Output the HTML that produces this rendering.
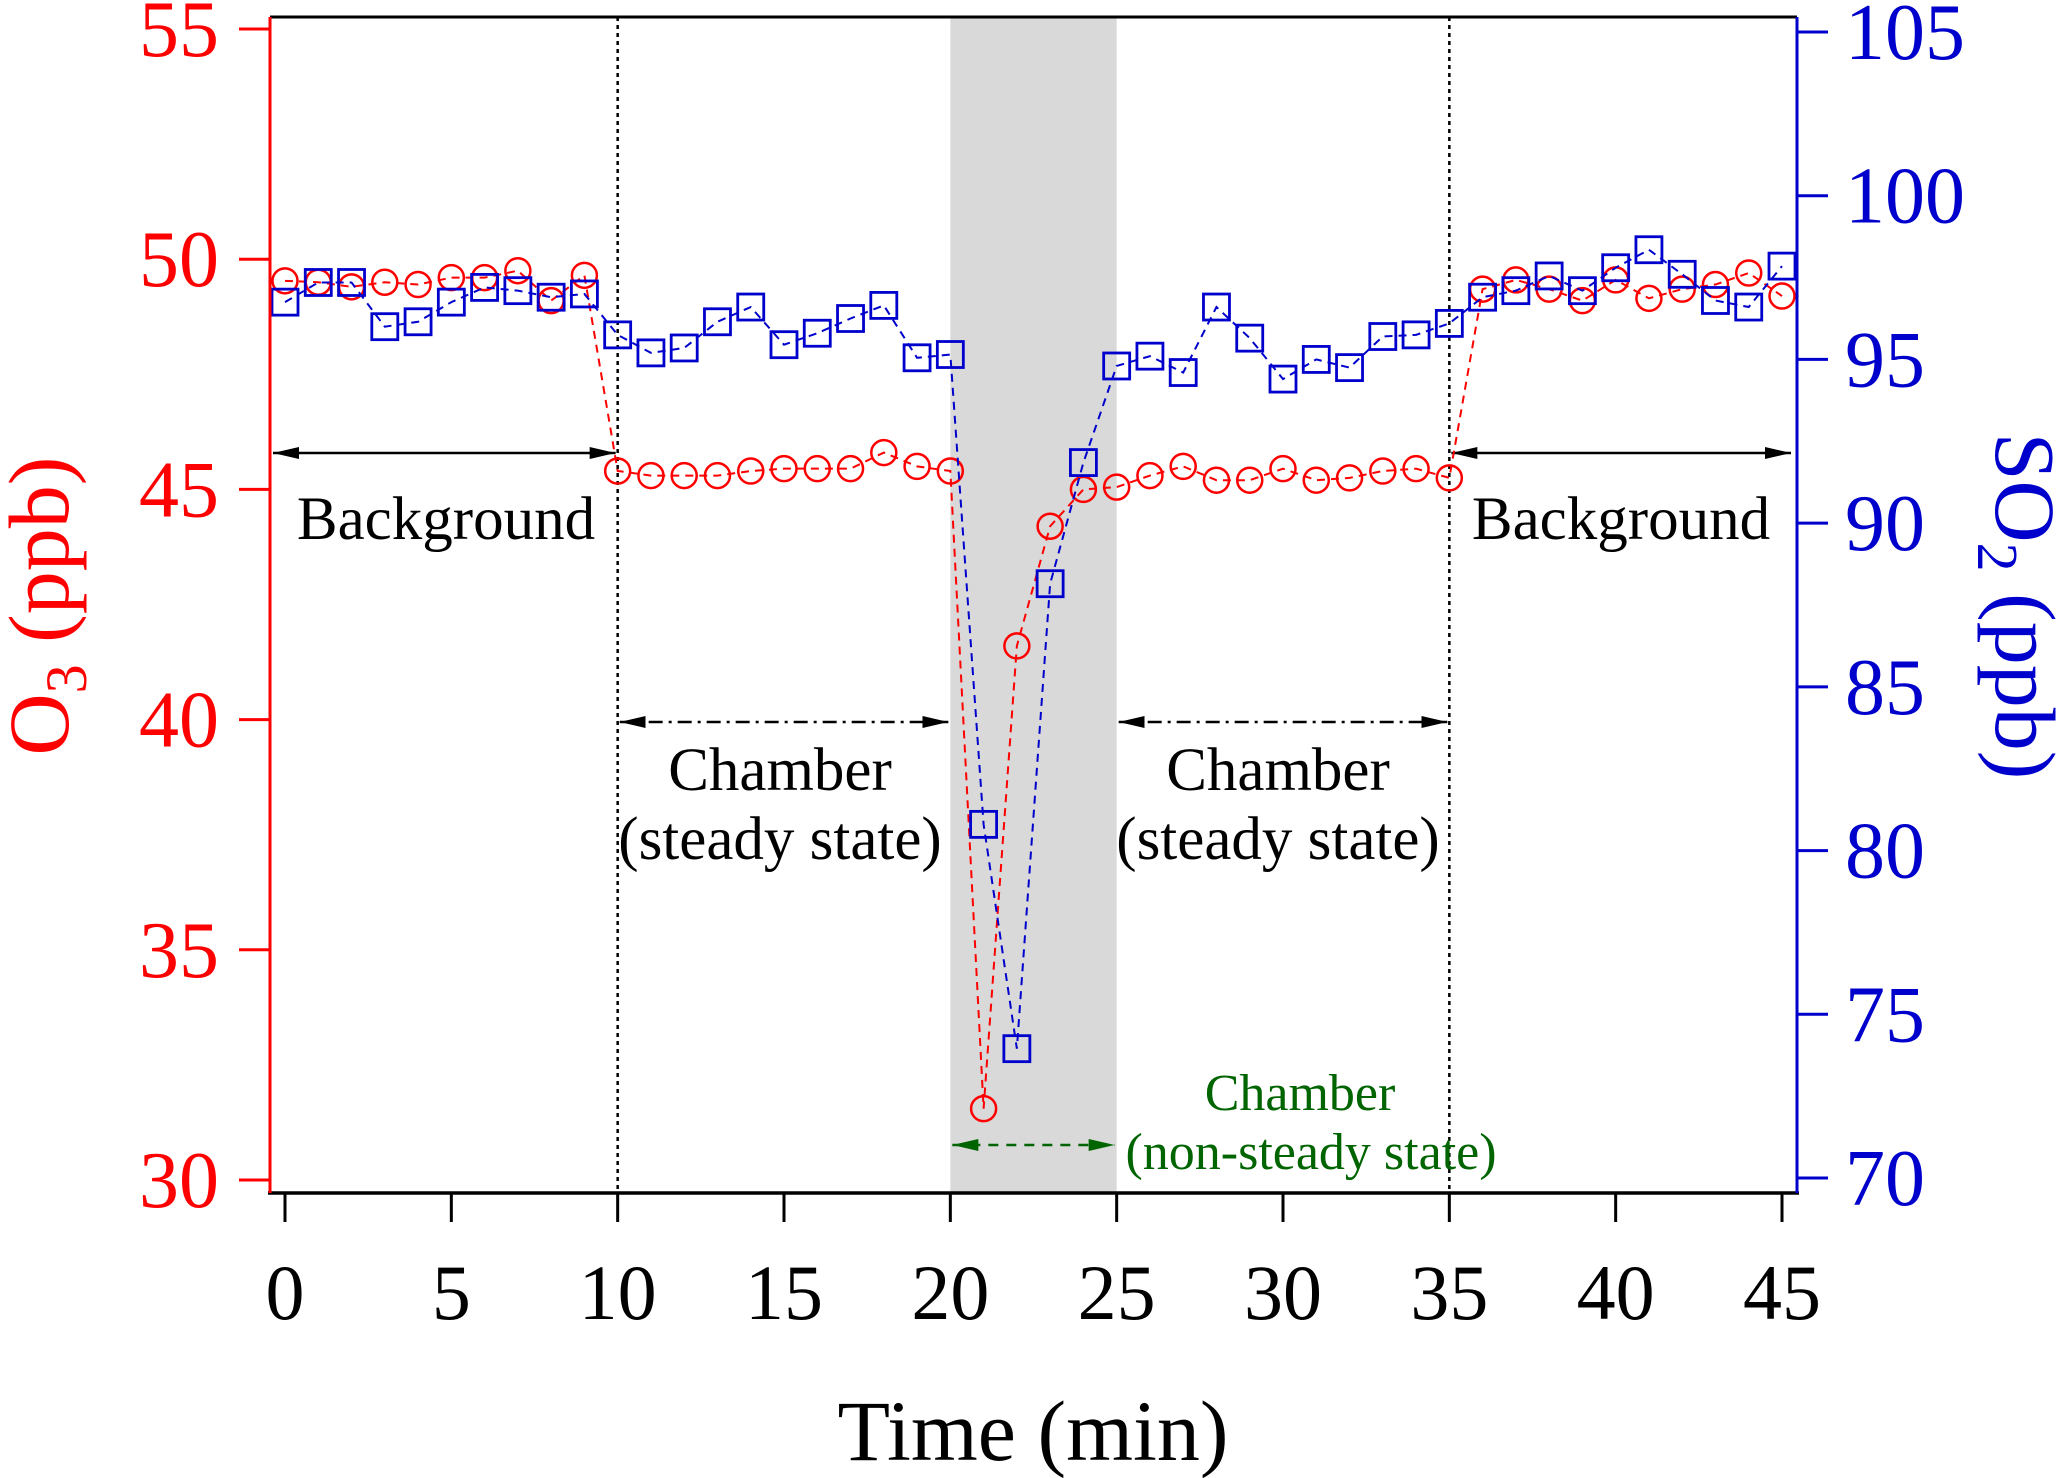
<!DOCTYPE html>
<html><head><meta charset="utf-8"><style>
body{margin:0;background:#fff}
svg{display:block;font-family:"Liberation Serif",serif}
</style></head><body>
<svg id="chart" width="2067" height="1478" viewBox="0 0 2067 1478" xmlns="http://www.w3.org/2000/svg">
<g id="bg"></g>
<g id="marks"></g>
<g id="axes"></g>
</svg>
<script>
const times=[0,1,2,3,4,5,6,7,8,9,10,11,12,13,14,15,16,17,18,19,20,21,22,23,24,25,26,27,28,29,30,31,32,33,34,35,36,37,38,39,40,41,42,43,44,45];
const o3Values=[49.53,49.5,49.4,49.5,49.45,49.6,49.6,49.75,49.1,49.65,45.4,45.3,45.3,45.3,45.4,45.45,45.45,45.45,45.8,45.5,45.4,31.55,41.6,44.2,45.0,45.05,45.3,45.5,45.2,45.2,45.45,45.2,45.25,45.4,45.45,45.25,49.35,49.55,49.35,49.1,49.55,49.15,49.35,49.45,49.7,49.2];
const so2Values=[96.75,97.35,97.35,96.0,96.15,96.75,97.2,97.1,96.9,97.0,95.75,95.2,95.35,96.15,96.6,95.45,95.8,96.25,96.65,95.05,95.15,80.8,73.95,88.15,91.85,94.8,95.1,94.6,96.6,95.65,94.4,95.0,94.75,95.7,95.75,96.1,96.9,97.1,97.55,97.1,97.8,98.35,97.6,96.8,96.6,97.85];
const xTicks=[0,5,10,15,20,25,30,35,40,45];
const o3Ticks=[30,35,40,45,50,55];
const so2Ticks=[70,75,80,85,90,95,100,105];

const NS="http://www.w3.org/2000/svg";
const L=270,R=1797,T=17,B=1193;
const xs=t=>285+(t-0)*(1782-285)/45;
const yO=v=>29+(55-v)*(1180-29)/25;
const yS=v=>32+(105-v)*(1178-32)/35;
function mk(tag,attrs,parent,text){const e=document.createElementNS(NS,tag);for(const k in attrs)e.setAttribute(k,attrs[k]);if(text!==undefined)e.textContent=text;parent.appendChild(e);return e;}
const bg=document.getElementById('bg'),marks=document.getElementById('marks'),axes=document.getElementById('axes');

let band=mk('rect',{x:xs(20),y:T,width:xs(25)-xs(20),height:B-T,fill:'#d9d9d9'},bg);


[10,35].forEach(t=>{let l=mk('line',{x1:xs(t),x2:xs(t),y1:T,y2:B,stroke:'#000','stroke-width':2.5,'stroke-dasharray':'4 4'},bg);

});

const defs=mk('defs',{},document.getElementById('chart'));
function arrowDef(id,col){const m=mk('marker',{id:id,viewBox:'0 0 10 10',refX:10,refY:5,markerWidth:26,markerHeight:12,markerUnits:'userSpaceOnUse',orient:'auto-start-reverse',preserveAspectRatio:'none'},defs);mk('path',{d:'M0,0 L10,5 L0,10 z',fill:col},m);}
arrowDef('ak','#000');arrowDef('ag','#006400');
function arrow(x1,x2,y,col,dash,id,name){let l=mk('line',{x1:x1,x2:x2,y1:y,y2:y,stroke:col,'stroke-width':2.5,'stroke-dasharray':dash,'marker-start':'url(#'+id+')','marker-end':'url(#'+id+')'},bg);

}
arrow(L+3,xs(10)-2,453,'#000','none','ak','background-arrow-left');
arrow(xs(35)+2,R-6,453,'#000','none','ak','background-arrow-right');
arrow(xs(10)+2,xs(20)-2,722,'#000','14 6 3 6','ak','chamber-arrow-1');
arrow(xs(25)+2,xs(35)-2,722,'#000','14 6 3 6','ak','chamber-arrow-2');
arrow(xs(20)+2,xs(25)-2,1145,'#006400','10 8','ag','nonsteady-arrow');

function label(x,y,txt,col,size,name){let e=mk('text',{x:x,y:y,fill:col,'font-size':size,'text-anchor':'middle'},bg,txt);

}
label(446,539,'Background','#000',61,'background-label-left');
label(1621,539,'Background','#000',61,'background-label-right');
label(780,790,'Chamber','#000',61,'chamber-label-1');
label(780,859,'(steady state)','#000',61,'chamber-sub-label-1');
label(1278,790,'Chamber','#000',61,'chamber-label-2');
label(1278,859,'(steady state)','#000',61,'chamber-sub-label-2');
label(1300,1110,'Chamber','#006400',52,'nonsteady-label');
label(1311,1169,'(non-steady state)','#006400',52,'nonsteady-sub-label');

function series(vals,yf,col,shape,name){
  let d=vals.map((v,i)=>(i?'L':'M')+xs(times[i])+','+yf(v)).join(' ');
  let p=mk('path',{d:d,fill:'none',stroke:col,'stroke-width':2,'stroke-dasharray':'8 6'},marks);
  
  
  vals.forEach((v,i)=>{let e;
    if(shape==='c'){e=mk('circle',{cx:xs(times[i]),cy:yf(v),r:12.5,fill:'none',stroke:col,'stroke-width':2.5},marks);}
    else{e=mk('rect',{x:xs(times[i])-13,y:yf(v)-13,width:26,height:26,fill:'none',stroke:col,'stroke-width':2.8},marks);}
    
    });
}
series(o3Values,yO,'#ff0000','c','o3');
series(so2Values,yS,'#0000cc','s','so2');

let a;
a=mk('line',{x1:L,x2:R,y1:T,y2:T,stroke:'#000','stroke-width':3},axes);

a=mk('line',{x1:L-2,x2:R+2,y1:B,y2:B,stroke:'#000','stroke-width':3.5},axes);

a=mk('line',{x1:L,x2:L,y1:T,y2:B,stroke:'#ff0000','stroke-width':3},axes);

a=mk('line',{x1:R,x2:R,y1:T,y2:B,stroke:'#0000cc','stroke-width':3},axes);

xTicks.forEach(t=>{mk('line',{x1:xs(t),x2:xs(t),y1:B,y2:B+29,stroke:'#000','stroke-width':3},axes);
 let e=mk('text',{x:xs(t),y:1319,'font-size':78,'text-anchor':'middle',fill:'#000'},axes,String(t));
 
 });
o3Ticks.forEach(v=>{mk('line',{x1:L-31,x2:L,y1:yO(v),y2:yO(v),stroke:'#ff0000','stroke-width':3},axes);
 let e=mk('text',{x:219,y:yO(v)+27,'font-size':80,'text-anchor':'end',fill:'#ff0000'},axes,String(v));
 
 });
so2Ticks.forEach(v=>{mk('line',{x1:R,x2:R+31,y1:yS(v),y2:yS(v),stroke:'#0000cc','stroke-width':3},axes);
 let e=mk('text',{x:1845,y:yS(v)+27,'font-size':80,'text-anchor':'start',fill:'#0000cc'},axes,String(v));
 
 });
</script>
<svg style="position:absolute;left:0;top:0" width="2067" height="1478" xmlns="http://www.w3.org/2000/svg" font-family="Liberation Serif, serif">
<text x="1033" y="1460" font-size="86" text-anchor="middle" fill="#000">Time (min)</text>
<text transform="translate(68,606) rotate(-90)" font-size="86" text-anchor="middle" fill="#ff0000">O<tspan font-size="58" dy="18">3</tspan><tspan dy="-18"> (ppb)</tspan></text>
<text transform="translate(1996,606) rotate(90)" font-size="86" text-anchor="middle" fill="#0000cc">SO<tspan font-size="58" dy="18">2</tspan><tspan dy="-18"> (ppb)</tspan></text>
</svg>
</body></html>
